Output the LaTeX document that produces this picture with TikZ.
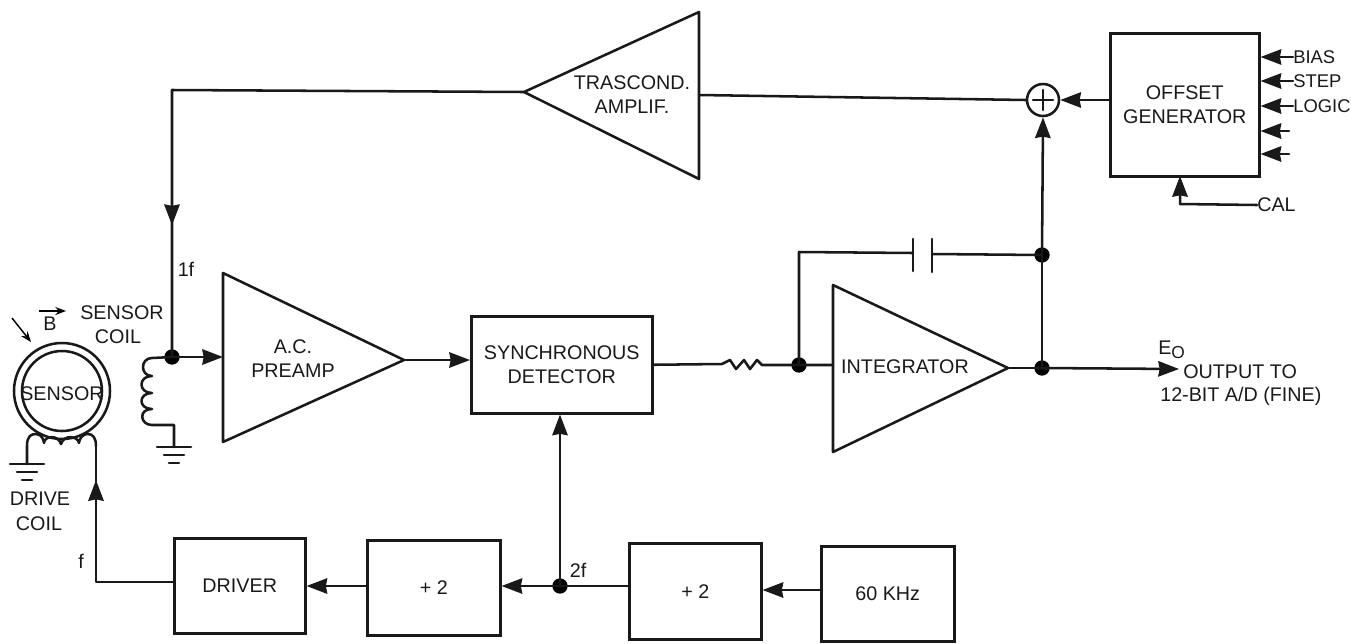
\documentclass[tikz,border=0pt]{standalone}
\usepackage{fontspec}
\setmainfont{Liberation Sans}
\usetikzlibrary{arrows.meta,decorations.markings}
\tikzset{
 x=0.75pt,y=-0.75pt,
 wire/.style={line width=1.9pt,line join=round,line cap=round,black!90},
 tip/.style={-{Stealth[length=15.5pt,width=11.5pt,inset=1pt]}},
 block/.style={draw,line width=1.9pt,black!90,minimum width=0pt,inner sep=0pt,anchor=north west,align=center},
 amp/.style={draw=black!90,line width=1.9pt,line join=round},
 lbl/.style={font=\fontsize{14.8}{18}\selectfont,inner sep=0pt,align=center,black!90},
 dot/.style={circle,fill=black,inner sep=0pt,minimum size=11.5pt},
 midarr/.style={postaction={decorate},decoration={markings,mark=at position #1 with {\arrow{Stealth[length=15.5pt,width=11.5pt,inset=1pt]}}}},
 gnd/.pic={\draw[wire] (-17,0) -- (17,0); \draw[wire] (-10,8) -- (10,8); \draw[wire] (-5,16) -- (5,16);}
}
\newcommand{\boxat}[6]{\node[block,minimum width=#4*0.75pt,minimum height=#5*0.75pt] (#1) at (#2,#3) {}; \node[lbl] at (#1.center) {#6};}
\begin{document}
\begin{tikzpicture}
\useasboundingbox (0,0) rectangle (1351,643);
% blocks
\boxat{offset}{1109}{32}{149}{143}{OFFSET\\GENERATOR}
\boxat{sync}{470}{315}{181}{97}{SYNCHRONOUS\\DETECTOR}
\boxat{driver}{173}{537}{131}{95}{DRIVER}
\boxat{divl}{366}{539}{133}{95}{+ 2}
\boxat{divr}{628}{542}{132}{96}{+ 2}
\boxat{osc}{820}{545}{133}{95}{60 KHz}
% amplifiers
\coordinate (tctip) at (524,92);
\coordinate (tcout) at (699,95);
\draw[amp] (tctip) -- (699,12) -- (699,179) -- cycle;
\node[lbl] (tclabel) at (632,95) {TRASCOND.\\AMPLIF.};
\coordinate (preamptip) at (404,360);
\coordinate (preampin) at (223,357);
\draw[amp] (preamptip) -- (223,273) -- (223,442) -- cycle;
\node[lbl] (pl) at (293,359) {A.C.\\PREAMP};
\coordinate (inttip) at (1008,368);
\coordinate (intin) at (833,365);
\draw[amp] (inttip) -- (833,285) -- (833,452) -- cycle;
\node[lbl] (il) at (905,367) {INTEGRATOR};
% sum
\node[circle,draw=black!90,line width=1.9pt,minimum size=24pt,inner sep=0pt] (sum) at (1043,100) {};
\draw[wire] (1043,90) -- (1043,110) (1033,100) -- (1053,100);
% junctions
\node[dot] (jin) at (172,357) {};
\node[dot] (j2f) at (560,586) {};
\node[dot] (jres) at (799,365) {};
\node[dot] (jout) at (1042,368) {};
\node[dot] (jcap) at (1042,255) {};
% feedback
\draw[wire] (tcout) -- (sum.west);
\draw[wire,midarr=0.787] (tctip) -- (172,90) -- (jin.center);
\draw[wire,tip] (jin.center) -- (preampin);
\draw[wire,tip] (preamptip) -- (sync.west |- preamptip);
\draw[wire,tip] (offset.west |- sum) -- (sum.east);
% detector -> integrator
\coordinate (ra) at (722,364);\coordinate (rb) at (762,365);
\draw[wire] (sync.east) -- (ra) -- (730,360) -- (736,369) -- (744,360) -- (750,369) -- (757,360) -- (rb) -- (jres.center) -- (intin);
% capacitor
\coordinate (capl) at (913,253);\coordinate (capr) at (932,254);
\draw[wire] (jres.center) -- (799,252) -- (capl);
\draw[wire] (913,239) -- (913,271) (932,239) -- (932,272);
\draw[wire] (capr) -- (jcap.center);
\draw[wire] (inttip) -- (jout.center);
\draw[wire] (jout.center) -- (jcap.center);
\draw[wire,tip] (jcap.center) -- (sum.south);
\coordinate (outend) at (1179,369);
\draw[wire,tip] (jout.center) -- (outend);
\node[lbl,anchor=west] (e0) at (1158,350) {E\raisebox{-3pt}{\fontsize{13}{14}\selectfont O}};
\node[lbl,anchor=west] (o1) at (1183,372) {OUTPUT TO};
\node[lbl,anchor=west] (o2) at (1160,396) {12-BIT A/D (FINE)};
% bottom chain
\draw[wire,tip] (osc.west |- 0,590) -- (divr.east |- 0,590);
\draw[wire] (divr.west |- j2f) -- (j2f.center);
\draw[wire,tip] (j2f.center) -- (divl.east |- j2f);
\draw[wire,tip] (j2f.center) -- (j2f |- sync.south);
\draw[wire,tip] (divl.west |- j2f) -- (driver.east |- j2f);
\coordinate (coilr) at (96,446);
\draw[wire,midarr=0.84] (driver.west |- 0,582) -- (96,582) -- (coilr);
% offset inputs
\foreach \n/\y/\t in {bias/57/BIAS,step/81/STEP,logic/106/LOGIC}{
 \node[lbl,anchor=west,font=\fontsize{13.8}{18}\selectfont] (\n) at (1293,\y) {\t};
 \draw[wire,tip] (\n.west) -- (offset.east |- \n.west);
}
\coordinate (x1) at (1289,131);\coordinate (x2) at (1289,154);
\draw[wire,tip] (x1) -- (offset.east |- x1);
\draw[wire,tip] (x2) -- (offset.east |- x2);
\node[lbl,anchor=west] (cal) at (1257,205) {CAL};
\draw[wire,tip] (cal.west) -- (1180,204) -- (1180,176);
% sensor
\node[circle,draw=black!90,line width=1.9pt,minimum size=72pt,inner sep=0pt] (so) at (62,391) {};
\node[circle,draw=black!90,line width=1.9pt,minimum size=60pt,inner sep=0pt] (si) at (62,391) {};
\node[lbl] (slabel) at (62,394) {SENSOR};
\coordinate (dgnd) at (27,464);
\draw[wire] (dgnd) -- (27,446) .. controls (27,436) and (31,434) .. (36,434)
 .. controls (42,434) and (44,441) .. (44,443) .. controls (44,436) and (58,434) .. (61,444)
 .. controls (64,434) and (78,436) .. (79,443) .. controls (79,441) and (81,434) .. (88,434)
 .. controls (93,434) and (96,438) .. (coilr);
\pic at (27,464) {gnd};
\node[lbl] (d1) at (40,499) {DRIVE};
\node[lbl] (d2) at (39,524) {COIL};
\node[lbl] (f) at (81,561) {f};
\node[lbl] (b) at (50,324) {B};
\coordinate (ba) at (39,311);\coordinate (bb) at (66,311);
\draw[line width=1.2pt,-{Stealth[length=8pt,width=6pt]}] (ba) -- (bb);
\coordinate (fa) at (12,318);\coordinate (fb) at (31,342);
\draw[line width=1.1pt,-{Stealth[length=8pt,width=6pt]}] (fa) -- (fb);
\node[lbl] (s1) at (122,313) {SENSOR};
\node[lbl] (s2) at (118,337) {COIL};
\node[lbl] (one) at (186,269) {1f};
\node[lbl] (two) at (578,570) {2f};
% sensor coil
\coordinate (cgnd) at (174,447);
\draw[wire] (jin.center) -- (152,358) .. controls (140,358) and (140,376) .. (152,376)
 .. controls (138,376) and (138,393) .. (152,393) .. controls (138,393) and (138,409) .. (152,409)
 .. controls (138,409) and (140,425) .. (152,425) -- (174,425) -- (cgnd);
\pic at (174,447) {gnd};
\end{tikzpicture}
\end{document}
